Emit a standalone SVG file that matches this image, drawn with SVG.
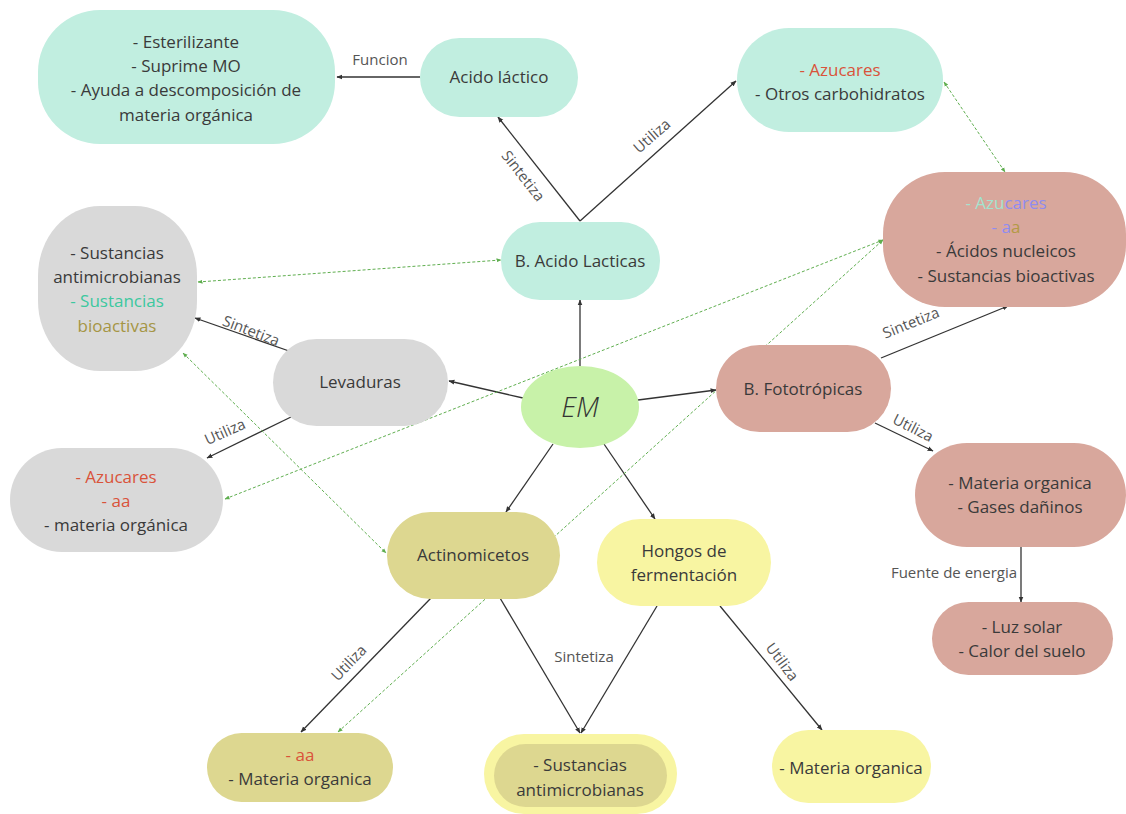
<svg xmlns="http://www.w3.org/2000/svg" width="1126" height="814" viewBox="0 0 1126 814">
<style>
text{font-family:"Open Sans","Liberation Sans",sans-serif;}
.t{font-size:17px;font-weight:400;fill:#3a3a3a;text-anchor:middle;}
.l{font-size:15px;font-weight:400;fill:#555;text-anchor:middle;}
.teal{fill:#c1eee0;}
.gray{fill:#d9d9d9;}
.pink{fill:#d8a79c;}
.olive{fill:#ddd790;}
.yellow{fill:#f8f5a2;}
.c{fill:none;stroke:#333;stroke-width:1.3;marker-end:url(#ah);}
.g{fill:none;stroke:#5fae4f;stroke-width:1;stroke-dasharray:3 2;marker-start:url(#gh);marker-end:url(#gh);}
.red{fill:#d9533a;}
</style>
<defs>
<marker id="ah" viewBox="0 0 10 10" refX="9" refY="5" markerWidth="6" markerHeight="6" orient="auto-start-reverse" markerUnits="userSpaceOnUse"><path d="M0,1 L10,5 L0,9 Z" fill="#333"/></marker>
<marker id="gh" viewBox="0 0 10 10" refX="9" refY="5" markerWidth="5" markerHeight="5" orient="auto-start-reverse" markerUnits="userSpaceOnUse"><path d="M0,1 L10,5 L0,9 Z" fill="#5fae4f"/></marker>
</defs>
<rect width="1126" height="814" fill="#fff"/>

<g id="connectors">
<path class="c" d="M420,77 L337,77"/>
<path class="c" d="M580,221 L498,117"/>
<path class="c" d="M580,221 L736,81"/>
<path class="c" d="M580,366 L580,300"/>
<path class="c" d="M523,398 L449,381"/>
<path class="c" d="M638,400 L716,390"/>
<path class="c" d="M553,444 L506,512"/>
<path class="c" d="M604,444 L655,519"/>
<path class="c" d="M289,351 L195,318"/>
<path class="c" d="M291,417 L207,458"/>
<path class="c" d="M881,358 L1008,306"/>
<path class="c" d="M875,423 L933,451"/>
<path class="c" d="M1021,547 L1021,602"/>
<path class="c" d="M431,598 L301,732"/>
<path class="c" d="M500,598 L580,733"/>
<path class="c" d="M657,606 L581,733"/>
<path class="c" d="M720,606 L822,730"/>
<path class="g" d="M944,82 L1005,172"/>
<path class="g" d="M198,282 L501,260"/>
<path class="g" d="M225,499 L883,240"/>
<path class="g" d="M338,732 L883,240"/>
<path class="g" d="M183,353 L386,553"/>
<text class="l" x="380" y="65">Funcion</text>
<text class="l" transform="translate(523,176) rotate(52)" y="5">Sintetiza</text>
<text class="l" transform="translate(652,136) rotate(-41)" y="5">Utiliza</text>
<text class="l" transform="translate(251,331) rotate(21)" y="5">Sintetiza</text>
<text class="l" transform="translate(225,432) rotate(-24)" y="5">Utiliza</text>
<text class="l" transform="translate(911,323) rotate(-22)" y="5">Sintetiza</text>
<text class="l" transform="translate(913,428) rotate(27)" y="5">Utiliza</text>
<text class="l" x="954" y="578">Fuente de energia</text>
<text class="l" transform="translate(349,663) rotate(-46)" y="5">Utiliza</text>
<text class="l" x="584" y="662">Sintetiza</text>
<text class="l" transform="translate(782,662) rotate(53)" y="5">Utiliza</text>
</g>

<g id="funciones">
<rect class="teal" x="38" y="10" width="297" height="134" rx="62" ry="62"/>
<text class="t" x="186" y="48">- Esterilizante</text>
<text class="t" x="186" y="72">- Suprime MO</text>
<text class="t" x="186" y="96">- Ayuda a descomposición de</text>
<text class="t" x="186" y="121">materia orgánica</text>
</g>
<g id="acido-lactico">
<rect class="teal" x="420" y="38" width="158" height="79" rx="39.5"/>
<text class="t" x="499" y="83">Acido láctico</text>
</g>
<g id="azucares-top">
<rect class="teal" x="737" y="28" width="206" height="104" rx="52"/>
<text class="t" x="840" y="76"><tspan class="red">- Azucares</tspan></text>
<text class="t" x="840" y="100">- Otros carbohidratos</text>
</g>
<g id="b-acido-lacticas">
<rect class="teal" x="501" y="222" width="159" height="78" rx="39"/>
<text class="t" x="580" y="267">B. Acido Lacticas</text>
</g>
<g id="sustancias-fototropicas">
<rect class="pink" x="883" y="172" width="243" height="135" rx="62"/>
<text class="t" x="1006" y="209"><tspan style="fill:#a3e3cf">- Azu</tspan><tspan style="fill:#8f8cf0">cares</tspan></text>
<text class="t" x="1006" y="233"><tspan style="fill:#8f8cf0">- a</tspan><tspan style="fill:#b39a45">a</tspan></text>
<text class="t" x="1006" y="257">- Ácidos nucleicos</text>
<text class="t" x="1006" y="282">- Sustancias bioactivas</text>
</g>
<g id="sustancias-levaduras">
<rect class="gray" x="38" y="206" width="159" height="165" rx="62" ry="70"/>
<text class="t" x="117" y="259">- Sustancias</text>
<text class="t" x="117" y="283">antimicrobianas</text>
<text class="t" x="117" y="307" style="fill:#3cc89f">- Sustancias</text>
<text class="t" x="117" y="332" style="fill:#a59544">bioactivas</text>
</g>
<g id="levaduras">
<rect class="gray" x="273" y="339" width="175" height="87" rx="43.5"/>
<text class="t" x="360" y="388">Levaduras</text>
</g>
<g id="em">
<ellipse cx="580" cy="407" rx="59" ry="41" fill="#c8f2a9"/>
<text x="580" y="417" font-size="28" font-weight="300" font-style="italic" fill="#333" text-anchor="middle">EM</text>
</g>
<g id="b-fototropicas">
<rect class="pink" x="716" y="345" width="175" height="87" rx="43.5"/>
<text class="t" x="803" y="395">B. Fototrópicas</text>
</g>
<g id="materia-gases">
<rect class="pink" x="915" y="443" width="211" height="104" rx="52"/>
<text class="t" x="1020" y="489">- Materia organica</text>
<text class="t" x="1020" y="513">- Gases dañinos</text>
</g>
<g id="luz-calor">
<rect class="pink" x="932" y="602" width="181" height="73" rx="36.5"/>
<text class="t" x="1022" y="633">- Luz solar</text>
<text class="t" x="1022" y="657">- Calor del suelo</text>
</g>
<g id="utiliza-levaduras">
<rect class="gray" x="10" y="448" width="213" height="104" rx="52"/>
<text class="t" x="116" y="483"><tspan class="red">- Azucares</tspan></text>
<text class="t" x="116" y="507"><tspan class="red">- aa</tspan></text>
<text class="t" x="116" y="531">- materia orgánica</text>
</g>
<g id="actinomicetos">
<rect class="olive" x="387" y="512" width="173" height="87" rx="43.5"/>
<text class="t" x="473" y="561">Actinomicetos</text>
</g>
<g id="hongos">
<rect class="yellow" x="597" y="519" width="174" height="87" rx="43.5"/>
<text class="t" x="684" y="557">Hongos de</text>
<text class="t" x="684" y="581">fermentación</text>
</g>
<g id="aa-materia">
<rect class="olive" x="207" y="733" width="186" height="69" rx="34.5"/>
<text class="t" x="300" y="761"><tspan class="red">- aa</tspan></text>
<text class="t" x="300" y="785">- Materia organica</text>
</g>
<g id="sustancias-antimicrobianas">
<rect class="yellow" x="484" y="734" width="193" height="80" rx="40"/>
<rect class="olive" x="494" y="744" width="173" height="63" rx="31.5"/>
<text class="t" x="580" y="771">- Sustancias</text>
<text class="t" x="580" y="796">antimicrobianas</text>
</g>
<g id="materia-hongos">
<rect class="yellow" x="772" y="730" width="159" height="73" rx="36.5"/>
<text class="t" x="851" y="774">- Materia organica</text>
</g>
</svg>
